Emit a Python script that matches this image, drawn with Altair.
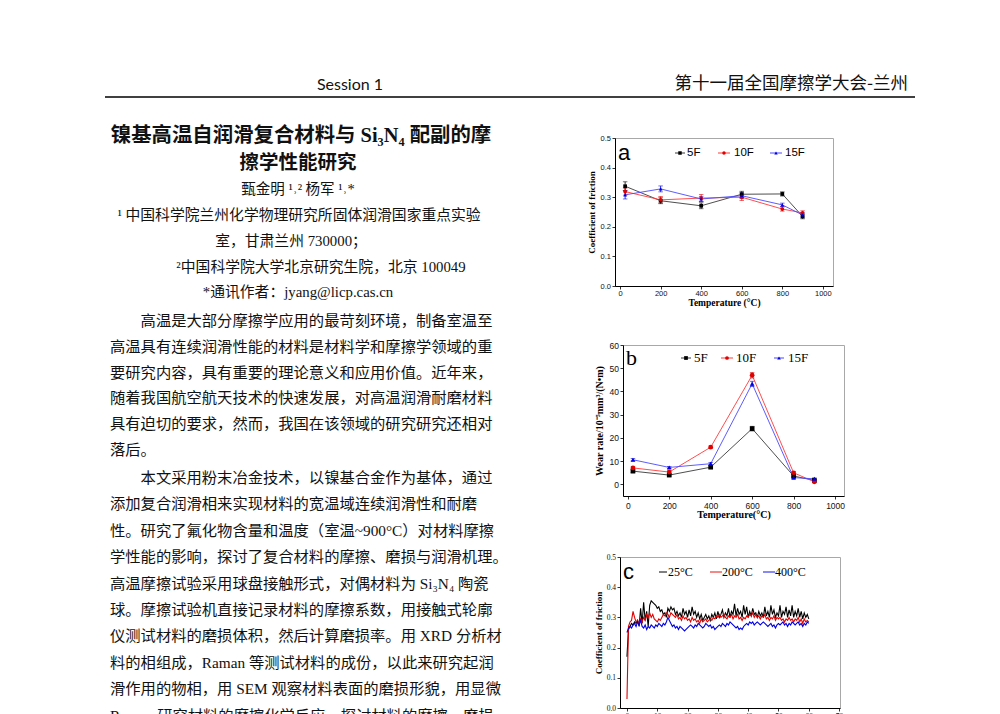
import altair as alt
import pandas as pd

# ---------------- data ----------------
TEMPS = [25, 200, 400, 600, 800, 900]
SERIES_F = ["5F", "10F", "15F"]

COF_5F = [0.337, 0.288, 0.271, 0.310, 0.311, 0.235]
COF_10F = [0.319, 0.291, 0.297, 0.300, 0.260, 0.247]
COF_15F = [0.308, 0.328, 0.294, 0.305, 0.274, 0.240]
COF_ERR_5F = [0.015, 0.010, 0.010, 0.010, 0.007, 0.008]
COF_ERR_10F = [0.012, 0.011, 0.012, 0.011, 0.007, 0.007]
COF_ERR_15F = [0.014, 0.010, 0.009, 0.010, 0.006, 0.007]

WEAR_5F = [5.7, 4.0, 7.4, 24.0, 3.6, 1.7]
WEAR_10F = [7.1, 5.3, 16.0, 47.0, 5.0, 1.1]
WEAR_15F = [10.6, 7.3, 8.9, 43.3, 2.9, 2.4]
WEAR_ERR_5F = [0.5, 0.4, 0.5, 1.0, 0.5, 0.4]
WEAR_ERR_10F = [0.5, 0.5, 0.5, 1.2, 0.5, 0.4]
WEAR_ERR_15F = [0.5, 0.4, 0.5, 1.1, 0.4, 0.4]

TEMP_TICKS = [0, 200, 400, 600, 800, 1000]
COF_TICKS = [0.0, 0.1, 0.2, 0.3, 0.4, 0.5]
WEAR_TICKS = [0, 10, 20, 30, 40, 50, 60]
TIME_TICKS = [0, 10, 20, 30, 40, 50, 60, 70]

SERIES_T = ["25°C", "200°C", "400°C"]
TIME_MIN = [i / 2 for i in range(121)]
COF_25C = [
    0.17, 0.26, 0.27, 0.28, 0.275, 0.285, 0.28, 0.29, 0.27, 0.33,
    0.28, 0.35, 0.29, 0.32, 0.27, 0.34, 0.355, 0.35, 0.345, 0.34,
    0.33, 0.335, 0.32, 0.325, 0.31, 0.315, 0.30, 0.33, 0.32, 0.335,
    0.325, 0.33, 0.31, 0.32, 0.305, 0.315, 0.30, 0.33, 0.31, 0.32,
    0.30, 0.325, 0.305, 0.335, 0.31, 0.32, 0.30, 0.315, 0.295, 0.31,
    0.29, 0.30, 0.31, 0.295, 0.305, 0.29, 0.31, 0.30, 0.315, 0.295,
    0.32, 0.30, 0.31, 0.325, 0.30, 0.315, 0.305, 0.33, 0.30, 0.32,
    0.31, 0.345, 0.305, 0.33, 0.31, 0.32, 0.30, 0.34, 0.31, 0.335,
    0.30, 0.32, 0.305, 0.33, 0.31, 0.315, 0.30, 0.32, 0.305, 0.315,
    0.30, 0.335, 0.305, 0.32, 0.30, 0.34, 0.31, 0.325, 0.30, 0.315,
    0.305, 0.34, 0.30, 0.32, 0.31, 0.335, 0.30, 0.325, 0.305, 0.34,
    0.30, 0.32, 0.305, 0.33, 0.30, 0.32, 0.295, 0.315, 0.30, 0.31,
    0.295,
]
COF_200C = [
    0.03, 0.27, 0.285, 0.29, 0.32, 0.30, 0.285, 0.29, 0.28, 0.295,
    0.285, 0.30, 0.29, 0.31, 0.30, 0.315, 0.30, 0.31, 0.295, 0.29,
    0.285, 0.295, 0.29, 0.30, 0.31, 0.305, 0.315, 0.31, 0.30, 0.315,
    0.31, 0.305, 0.30, 0.31, 0.295, 0.30, 0.29, 0.305, 0.295, 0.30,
    0.29, 0.295, 0.285, 0.30, 0.29, 0.295, 0.285, 0.29, 0.28, 0.295,
    0.285, 0.29, 0.295, 0.285, 0.29, 0.295, 0.29, 0.30, 0.295, 0.305,
    0.30, 0.31, 0.30, 0.305, 0.31, 0.30, 0.295, 0.305, 0.30, 0.31,
    0.295, 0.305, 0.30, 0.31, 0.295, 0.30, 0.29, 0.30, 0.295, 0.305,
    0.30, 0.31, 0.305, 0.315, 0.30, 0.31, 0.30, 0.305, 0.295, 0.305,
    0.30, 0.31, 0.295, 0.30, 0.29, 0.30, 0.295, 0.305, 0.29, 0.30,
    0.295, 0.30, 0.29, 0.295, 0.285, 0.295, 0.29, 0.30, 0.29, 0.295,
    0.285, 0.295, 0.29, 0.30, 0.285, 0.295, 0.28, 0.295, 0.285, 0.29,
    0.285,
]
COF_400C = [
    0.25, 0.265, 0.27, 0.265, 0.275, 0.28, 0.27, 0.285, 0.275, 0.29,
    0.27, 0.265, 0.275, 0.26, 0.27, 0.265, 0.275, 0.27, 0.265, 0.275,
    0.27, 0.28, 0.275, 0.27, 0.28, 0.275, 0.285, 0.30, 0.29, 0.28,
    0.27, 0.275, 0.265, 0.27, 0.26, 0.27, 0.265, 0.26, 0.255, 0.26,
    0.265, 0.27, 0.275, 0.27, 0.265, 0.275, 0.27, 0.28, 0.275, 0.27,
    0.265, 0.27, 0.28, 0.275, 0.27, 0.275, 0.265, 0.27, 0.26, 0.265,
    0.27, 0.275, 0.27, 0.28, 0.275, 0.27, 0.28, 0.275, 0.285, 0.28,
    0.275, 0.27, 0.265, 0.27, 0.26, 0.265, 0.26, 0.27, 0.275, 0.28,
    0.275, 0.285, 0.28, 0.285, 0.275, 0.28, 0.285, 0.28, 0.275, 0.28,
    0.285, 0.28, 0.275, 0.27, 0.275, 0.28, 0.27, 0.275, 0.265, 0.275,
    0.28, 0.275, 0.28, 0.285, 0.275, 0.28, 0.27, 0.28, 0.275, 0.285,
    0.28, 0.275, 0.28, 0.285, 0.275, 0.28, 0.27, 0.28, 0.275, 0.285,
    0.28,
]

HEADER_LEFT = "Session 1"
HEADER_RIGHT = "第十一届全国摩擦学大会-兰州"
TITLE_1 = "镍基高温自润滑复合材料与 Si₃N₄ 配副的摩"
TITLE_2 = "擦学性能研究"
AUTHORS = "甄金明 ¹˒² 杨军 ¹˒*"
AFFIL_1A = "¹ 中国科学院兰州化学物理研究所固体润滑国家重点实验"
AFFIL_1B = "室，甘肃兰州 730000；"
AFFIL_2 = "²中国科学院大学北京研究生院，北京 100049"
EMAIL = "*通讯作者：jyang@licp.cas.cn"
PARA_1 = [
    "高温是大部分摩擦学应用的最苛刻环境，制备室温至",
    "高温具有连续润滑性能的材料是材料学和摩擦学领域的重",
    "要研究内容，具有重要的理论意义和应用价值。近年来，",
    "随着我国航空航天技术的快速发展，对高温润滑耐磨材料",
    "具有迫切的要求，然而，我国在该领域的研究研究还相对",
    "落后。",
]
PARA_2 = [
    "本文采用粉末冶金技术，以镍基合金作为基体，通过",
    "添加复合润滑相来实现材料的宽温域连续润滑性和耐磨",
    "性。研究了氟化物含量和温度（室温~900°C）对材料摩擦",
    "学性能的影响，探讨了复合材料的摩擦、磨损与润滑机理。",
    "高温摩擦试验采用球盘接触形式，对偶材料为 Si₃N₄ 陶瓷",
    "球。摩擦试验机直接记录材料的摩擦系数，用接触式轮廓",
    "仪测试材料的磨损体积，然后计算磨损率。用 XRD 分析材",
    "料的相组成，Raman 等测试材料的成份，以此来研究起润",
    "滑作用的物相，用 SEM 观察材料表面的磨损形貌，用显微",
    "Raman 研究材料的摩擦化学反应，探讨材料的摩擦、磨损",
]

# ---------------- styles ----------------
SERIF = "Liberation Serif"
SANS = "Liberation Sans"
BODY_FONT = "Liberation Serif, Noto Sans CJK SC"
CJK = "Noto Sans CJK SC"
BODY_SIZE = 15.3
F_PT = ["#000000", "#e00000", "#0000e0"]
F_LN = ["#3a3a3a", "#ff3a3a", "#4a4aff"]
F_SHAPES = ["square", "circle", "triangle-up"]
T_COLORS = ["#000000", "#ee1111", "#1111ee"]
FRAME = alt.ViewBackground(stroke="#a8a8a8", strokeWidth=1)


def one(val):
    return alt.Chart(pd.DataFrame({"t": [val]}))


def blank(w, h):
    return one(0).mark_point(opacity=0, size=1).properties(width=w, height=h)


def shifted(chart, w):
    return alt.hconcat(blank(w, 1), chart, spacing=0)


def y_axis(values, fmt, title, lfont, lsize, tsize, extent, tpad):
    return alt.Axis(values=values, format=fmt, title=title, grid=False,
                    labelFont=lfont, labelFontSize=lsize, labelColor="#111",
                    labelPadding=1.5, tickSize=3, tickColor="#000", tickWidth=0.8,
                    domainColor="#000", domainWidth=1, labelOverlap=False,
                    titleFont=SERIF, titleFontWeight="bold", titleFontSize=tsize,
                    titleColor="#000", titlePadding=tpad,
                    minExtent=extent, maxExtent=extent)


def x_axis(values, fmt, title, lfont, lsize, tsize, lpad, tpad):
    return alt.Axis(values=values, format=fmt, title=title, grid=False,
                    labelFont=lfont, labelFontSize=lsize, labelColor="#111",
                    labelPadding=lpad, labelFlush=False, labelOverlap=False,
                    tickSize=3, tickColor="#000", tickWidth=0.8,
                    domainColor="#000", domainWidth=1,
                    titleFont=SERIF, titleFontWeight="bold", titleFontSize=tsize,
                    titleColor="#000", titlePadding=tpad)


def legend_items(names, segs, y, font, size, shapes=None, pt_colors=None,
                 ln_colors=None, pt_size=14):
    layers = []
    for i, name in enumerate(names):
        x0, x1, tx = segs[i]
        src = one(name)
        layers.append(src.mark_rule(color=ln_colors[i], strokeWidth=1).encode(
            x=alt.value(x0), x2=alt.value(x1), y=alt.value(y)))
        if shapes:
            layers.append(src.mark_point(shape=shapes[i], filled=True, opacity=1,
                                         size=pt_size, color=pt_colors[i],
                                         strokeWidth=0).encode(
                x=alt.value((x0 + x1) / 2), y=alt.value(y)))
        layers.append(src.mark_text(align="left", baseline="middle", font=font,
                                    fontSize=size, color="#000").encode(
            x=alt.value(tx), y=alt.value(y), text="t:N"))
    return layers


def letter(ch, font, size, y):
    return one(ch).mark_text(align="left", baseline="middle", font=font,
                             fontSize=size, color="#000").encode(
        x=alt.value(3), y=alt.value(y), text="t:N")


def f_chart(vals, errs, xdom, ydom, xax, yax, w, h, pt_size, extra):
    rows = []
    for s, vv, ee in zip(SERIES_F, vals, errs):
        for t, v, e in zip(TEMPS, vv, ee):
            rows.append({"T": t, "v": v, "lo": v - e, "hi": v + e, "s": s})
    df = pd.DataFrame(rows)
    xs = alt.Scale(domain=xdom, nice=False, zero=False)
    ys = alt.Scale(domain=ydom, nice=False, zero=False)
    x = alt.X("T:Q", scale=xs, axis=xax)
    y = alt.Y("v:Q", scale=ys, axis=yax)
    base = alt.Chart(df)
    lines = base.mark_line(strokeWidth=0.9).encode(
        x=x, y=y,
        stroke=alt.Stroke("s:N", scale=alt.Scale(domain=SERIES_F, range=F_LN), legend=None))
    bars = base.mark_errorbar(ticks=True, size=4.5, thickness=0.8).encode(
        x=x, y=alt.Y("lo:Q", scale=ys, axis=yax), y2="hi:Q",
        color=alt.Color("s:N", scale=alt.Scale(domain=SERIES_F, range=F_PT), legend=None))
    pts = base.mark_point(filled=True, opacity=1, size=pt_size, strokeWidth=0).encode(
        x=x, y=y,
        fill=alt.Fill("s:N", scale=alt.Scale(domain=SERIES_F, range=F_PT), legend=None),
        shape=alt.Shape("s:N", scale=alt.Scale(domain=SERIES_F, range=F_SHAPES), legend=None))
    return alt.layer(lines, bars, pts, *extra).properties(width=w, height=h, view=FRAME)


# ---------------- chart a ----------------
chart_a = f_chart(
    [COF_5F, COF_10F, COF_15F], [COF_ERR_5F, COF_ERR_10F, COF_ERR_15F],
    [-25, 1050], [0, 0.5],
    x_axis(TEMP_TICKS, "d", "Temperature (°C)", SANS, 7.5, 9.5, 0.5, 0.5),
    y_axis(COF_TICKS, ".1f", "Coefficient of friction", SANS, 7.5, 9, 16, 2.5),
    218, 148, 14,
    [letter("a", SANS, 22, 15)] + legend_items(
        SERIES_F, [(60, 70, 72), (103, 115, 119), (155, 167, 170)], 15, SANS, 11.5,
        F_SHAPES, F_PT, F_LN, 12),
)

# ---------------- chart b ----------------
chart_b = f_chart(
    [WEAR_5F, WEAR_10F, WEAR_15F], [WEAR_ERR_5F, WEAR_ERR_10F, WEAR_ERR_15F],
    [-23, 1043], [-5, 60],
    x_axis(TEMP_TICKS, "d", "Temperature(°C)", SANS, 8.5, 10, 2, 0),
    y_axis(WEAR_TICKS, "d", "Wear rate/10⁻⁵mm³/(N•m)", SANS, 8.5, 10, 16, 3),
    221, 151, 22,
    [letter("b", SERIF, 22, 13)] + legend_items(
        SERIES_F, [(58, 68, 71), (98, 110, 113), (151, 161, 165)], 13, SERIF, 13,
        F_SHAPES, F_PT, F_LN, 14),
)

# ---------------- chart c ----------------
rows_c = []
for s, vv in zip(SERIES_T, [COF_25C, COF_200C, COF_400C]):
    for t, v in zip(TIME_MIN, vv):
        rows_c.append({"t": t, "v": v, "s": s})
df_c = pd.DataFrame(rows_c)
lines_c = alt.Chart(df_c).mark_line(strokeWidth=1.1).encode(
    x=alt.X("t:Q", scale=alt.Scale(domain=[-2.3, 70.3], nice=False, zero=False),
            axis=x_axis(TIME_TICKS, "d", "Time (min)", SERIF, 7.5, 9, 1, 1)),
    y=alt.Y("v:Q", scale=alt.Scale(domain=[0, 0.5], nice=False, zero=False),
            axis=y_axis(COF_TICKS, ".1f", "Coefficient of friction", SERIF, 7.5, 9, 15, 1.5)),
    color=alt.Color("s:N", scale=alt.Scale(domain=SERIES_T, range=T_COLORS), legend=None),
)
chart_c = alt.layer(
    lines_c, letter("c", SANS, 22, 15),
    *legend_items(SERIES_T, [(39, 47, 48), (90, 102, 102), (143, 155, 155)], 15, SERIF, 12,
                  ln_colors=T_COLORS),
).properties(width=220, height=151, view=FRAME)

# ---------------- header ----------------
header = alt.layer(
    one(HEADER_LEFT).mark_text(align="center", baseline="middle", font="Lato",
                               fontSize=16, color="#111").encode(
        x=alt.value(245), y=alt.value(14), text="t:N"),
    one(HEADER_RIGHT).mark_text(align="right", baseline="middle", font=CJK,
                                fontSize=17.5, color="#111").encode(
        x=alt.value(803), y=alt.value(13), text="t:N"),
    one(0).mark_rule(color="#000", strokeWidth=1.6).encode(
        x=alt.value(0), x2=alt.value(810), y=alt.value(26)),
).properties(width=810, height=30)


# ---------------- text column ----------------
def text_line(txt, x, y, size, align="center", weight="normal"):
    return one(txt).mark_text(align=align, baseline="middle", font=BODY_FONT,
                              fontSize=size, fontWeight=weight, color="#111").encode(
        x=alt.value(x), y=alt.value(y), text="t:N")


def paragraph(lines, y0, step):
    # first line indented by two characters, the rest flush left
    rest = lines[1:]
    n = len(rest)
    df = pd.DataFrame({"i": list(range(1, n + 1)), "t": rest})
    body = alt.Chart(df).mark_text(align="left", baseline="middle", font=BODY_FONT,
                                   fontSize=BODY_SIZE, color="#111").encode(
        x=alt.value(5),
        y=alt.Y("i:Q", scale=alt.Scale(domain=[1, n], range=[y0 + step, y0 + n * step]),
                axis=None),
        text="t:N")
    first = text_line(lines[0], 5 + 2 * BODY_SIZE, y0, BODY_SIZE, align="left")
    return [first, body]


text_panel = alt.layer(
    text_line(TITLE_1, 196, 18, 20.4, weight="bold"),
    text_line(TITLE_2, 193, 45, 19.5, weight="bold"),
    text_line(AUTHORS, 193, 72, 14.5),
    text_line(AFFIL_1A, 194, 98, 14.8),
    text_line(AFFIL_1B, 186, 124, 14.8),
    text_line(AFFIL_2, 216, 150, 14.8),
    text_line(EMAIL, 193, 175, 14.8),
    *paragraph(PARA_1, 203, 25.8),
    *paragraph(PARA_2, 360, 26.4),
).resolve_scale(y="independent").properties(width=420, height=600)

# ---------------- layout ----------------
right_col = alt.vconcat(
    blank(1, 15),
    shifted(chart_a, 5),
    blank(1, 32),
    shifted(chart_b, 10.5),
    blank(1, 32),
    shifted(chart_c, 12),
    spacing=0,
)
body = alt.hconcat(text_panel, right_col, spacing=56)
chart = alt.vconcat(header, body, spacing=15).properties(
    padding={"left": 95, "top": 62, "right": 5, "bottom": 5}
).configure_view(stroke="transparent")

chart.save("out.html", embed_options={"renderer": "svg", "actions": False})
